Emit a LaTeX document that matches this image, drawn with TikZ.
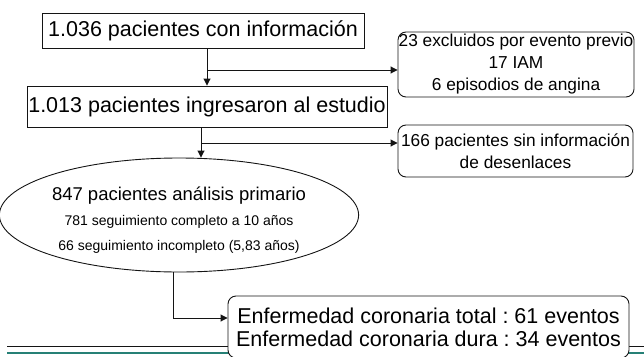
\documentclass[tikz,border=0pt]{standalone}
\usepackage{fontspec}
\setmainfont{Liberation Sans}
\usetikzlibrary{arrows.meta,shapes.geometric}
\definecolor{ink}{RGB}{20,20,20}
\definecolor{sea}{RGB}{38,128,118}
\frenchspacing
\tikzset{
  >={Triangle[length=7pt,width=7pt]},
  flowbox/.style={draw=ink,fill=white,line width=0.9pt,align=center,inner sep=0pt,
    minimum width=#1},
  roundbox/.style={flowbox=#1,rounded corners=8pt},
  bigtext/.style={font=\fontsize{21.5}{23}\selectfont},
  midtext/.style={font=\fontsize{17.3}{22}\selectfont},
  flow/.style={->,line width=0.9pt,draw=ink},
}

\begin{document}
\begin{tikzpicture}[x=1pt,y=-1pt]
  \useasboundingbox (0,0) rectangle (644,356);
  % rules at the foot of the page
  \draw[ink,line width=1pt] (7,346) -- (644,346);
  \draw[sea,line width=2pt] (7,353) -- (644,353);

  \node[flowbox=322pt,minimum height=35pt,bigtext] (total) at (203,30.5) {1.036 pacientes con información};
  \node[flowbox=360pt,minimum height=41pt,bigtext] (ingreso) at (207,106.5) {1.013 pacientes ingresaron al estudio};
  \node[roundbox=236pt,minimum height=65pt,midtext] (excl) at (516,64.5) {23 excluidos por evento previo\\17 IAM\\6 episodios de angina};
  \node[roundbox=235pt,minimum height=52pt,midtext] (sininfo) at (515.5,151) {166 pacientes sin información\\de desenlaces};
  \node[draw=ink,ellipse,line width=0.9pt,minimum width=332pt,minimum height=114pt,inner sep=0pt,
    align=center,font=\fontsize{14}{25}\selectfont] (primario) at (179,215)
    {{\fontsize{18.5}{25}\selectfont\rule{0pt}{24pt}847 pacientes análisis primario}\\781 seguimiento completo a 10 años\\66 seguimiento incompleto (5,83 años)};
  \node[roundbox=401pt,minimum height=62pt,bigtext] (eventos) at (428.5,327) {Enfermedad coronaria total : 61 eventos\\Enfermedad coronaria dura : 34 eventos};

  \coordinate (j1) at (207,70);
  \coordinate (j2) at (201,143);
  \coordinate (j3) at (173,318);
  \draw[flow] (ingreso.north |- total.south) -- (ingreso.north);
  \draw[flow] (j1) -- (j1 -| excl.west);
  \draw[flow] (j2 |- ingreso.south) -- (j2 |- primario.north);
  \draw[flow] (j2) -- (j2 -| sininfo.west);
  \draw[flow] (j3 |- primario.south) -- (j3) -- (j3 -| eventos.west);
\end{tikzpicture}
\end{document}
